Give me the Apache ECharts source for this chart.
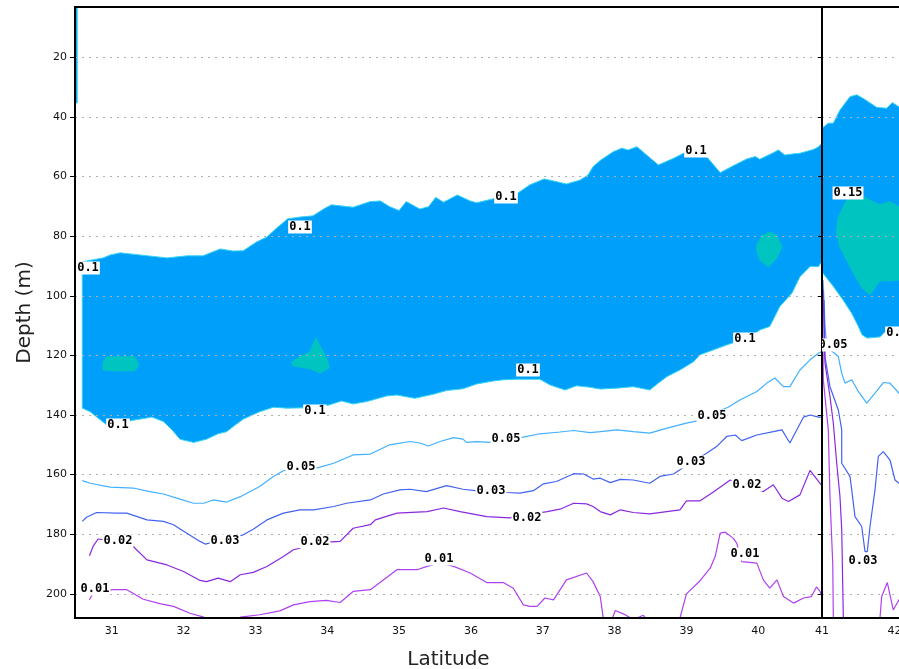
<!DOCTYPE html>
<html>
<head>
<meta charset="utf-8">
<script src="https://cdn.jsdelivr.net/npm/echarts@6/dist/echarts.min.js"></script>
<style>
  html, body { margin: 0; padding: 0; background: #fff; }
  #chart { width: 899px; height: 669px; }
</style>
</head>
<body>
<div id="chart"></div>
<script>
// Axis ticks
const latTicksWest = [31, 32, 33, 34, 35, 36, 37, 38, 39, 40];
const latTicksEast = [41, 42];
const depthTicks = [20, 40, 60, 80, 100, 120, 140, 160, 180, 200];

// Western section: region >= 0.1 (outline, [latitude, depth])
const fill010West = [
  [30.59,88.6],[30.88,87.3],[30.98,86.3],[31.12,85.6],[31.39,86.3],[31.77,87.3],[32.05,86.6],[32.27,86.6],
  [32.51,84.3],[32.69,85.0],[32.83,84.9],[33.02,81.9],[33.16,80.3],[33.30,77.2],[33.45,74.2],[33.62,73.6],
  [33.80,73.2],[33.97,70.6],[34.06,69.5],[34.36,70.3],[34.60,68.4],[34.74,68.2],[34.87,70.1],[35.00,71.4],
  [35.10,68.4],[35.29,70.9],[35.41,70.1],[35.51,67.0],[35.62,68.6],[35.81,66.2],[35.99,68.2],[36.08,68.8],
  [36.34,67.3],[36.49,66.2],[36.65,65.6],[36.82,62.8],[37.02,60.8],[37.15,61.5],[37.33,62.5],[37.52,61.2],
  [37.63,59.5],[37.70,56.7],[37.80,54.6],[37.98,51.7],[38.10,50.5],[38.19,51.1],[38.31,50.0],[38.61,56.1],
  [38.82,53.9],[39.00,51.7],[39.13,51.1],[39.28,53.3],[39.47,58.7],[39.65,56.4],[39.84,54.1],[39.96,53.3],
  [40.02,54.2],[40.21,52.0],[40.28,51.1],[40.37,52.8],[40.49,52.4],[40.58,52.2],[40.77,50.9],[40.84,50.0],
  [40.887,48.7],[40.887,89.0],[40.87,89.0],[40.84,90.2],[40.72,90.2],[40.58,93.6],[40.47,99.1],[40.30,103.6],
  [40.16,110.3],[40.02,111.5],[39.89,113.8],[39.56,116.5],[39.37,118.2],[39.19,119.8],[39.10,122.1],
  [38.91,124.9],[38.73,127.1],[38.61,129.3],[38.49,131.6],[38.26,130.5],[38.03,131.0],[37.80,131.3],
  [37.66,130.7],[37.47,130.2],[37.31,131.6],[37.10,129.9],[36.96,128.0],[36.64,128.0],[36.45,128.2],
  [36.31,128.6],[36.08,129.6],[35.89,131.2],[35.66,131.8],[35.48,133.0],[35.22,134.4],[34.97,133.3],
  [34.83,133.6],[34.55,135.5],[34.36,136.3],[34.20,135.3],[33.99,136.9],[33.69,137.6],[33.44,137.7],
  [33.25,137.4],[33.06,138.9],[32.83,141.4],[32.69,143.9],[32.60,145.6],[32.48,146.3],[32.32,148.1],
  [32.14,149.2],[31.95,148.1],[31.84,145.0],[31.72,142.2],[31.56,140.7],[31.39,141.4],[31.26,141.9],
  [30.93,143.3],[30.84,141.6],[30.70,138.9],[30.59,137.7]
];
const fill010WestEdge = [[30.489,3.1],[30.52,3.1],[30.52,35.3],[30.489,35.3]];
// Western section: cores >= 0.15
const core015WestA = [[30.88,122.2],[30.93,120.5],[31.32,120.5],[31.38,123.2],[31.32,125.2],[31.05,125.2],[30.88,124.9]];
const core015WestB = [[33.51,122.2],[33.62,120.5],[33.76,118.8],[33.84,114.1],[33.93,118.2],[34.00,121.5],[34.03,124.2],[33.90,125.9],[33.76,124.5],[33.62,123.9],[33.52,123.5]];
const core015WestC = [[39.98,82.9],[40.05,79.9],[40.16,78.6],[40.26,79.9],[40.33,83.6],[40.26,87.3],[40.14,90.3],[40.02,88.0],[39.98,84.6]];

// Western section isolines
const iso005West = [
  [30.59,162.0],[30.70,162.9],[30.98,164.2],[31.30,164.5],[31.53,165.7],[31.72,166.5],[31.95,168.2],[32.14,169.6],
  [32.28,169.6],[32.41,168.5],[32.60,169.2],[32.79,167.4],[33.06,164.0],[33.25,160.6],[33.39,158.7],[33.62,158.1],
  [33.85,157.8],[34.09,156.2],[34.36,153.4],[34.60,153.1],[34.87,150.0],[35.15,148.9],[35.29,149.4],[35.41,150.4],
  [35.57,148.9],[35.76,147.6],[35.89,148.1],[35.94,149.2],[36.08,148.9],[36.27,149.2],[36.49,148.3],[36.73,147.4],
  [36.96,146.3],[37.24,145.7],[37.43,145.2],[37.66,145.9],[37.80,145.6],[38.03,145.0],[38.26,145.6],[38.49,146.1],
  [38.73,144.4],[39.00,142.7],[39.15,142.0],[39.36,139.6],[39.58,137.4],[39.75,134.9],[39.98,132.1],[40.12,129.3],
  [40.23,127.6],[40.35,130.5],[40.44,130.5],[40.58,124.9],[40.72,121.5],[40.84,119.3],[40.887,118.7]
];
const iso003West = [
  [30.59,175.7],[30.65,174.3],[30.79,172.7],[31.07,172.9],[31.21,172.9],[31.49,175.2],[31.72,175.7],[31.86,176.8],
  [32.04,179.6],[32.23,182.4],[32.30,183.3],[32.56,181.9],[32.83,180.2],[32.97,178.3],[33.16,175.2],[33.39,172.9],
  [33.62,171.8],[33.81,171.8],[34.09,170.7],[34.27,169.6],[34.60,168.5],[34.78,166.5],[35.01,165.1],[35.15,164.9],
  [35.38,165.7],[35.66,163.7],[35.89,164.9],[36.06,165.4],[36.28,165.6],[36.50,166.0],[36.68,166.2],[36.87,165.4],
  [37.01,163.1],[37.19,162.3],[37.43,159.7],[37.57,159.8],[37.70,161.5],[37.80,161.2],[37.94,162.7],[38.08,161.6],
  [38.26,161.8],[38.49,162.9],[38.63,160.6],[38.82,159.8],[38.91,158.4],[39.08,155.7],[39.27,153.0],[39.42,150.6],
  [39.56,147.2],[39.68,146.7],[39.77,148.6],[39.98,146.7],[40.21,145.6],[40.33,145.0],[40.44,149.4],[40.63,140.7],
  [40.72,140.0],[40.84,140.7],[40.887,140.7]
];
const iso002West = [
  [30.69,187.2],[30.74,184.1],[30.81,181.6],[31.09,182.5],[31.30,184.1],[31.49,188.6],[31.77,190.3],[32.00,192.5],
  [32.23,195.5],[32.32,195.9],[32.48,194.7],[32.65,195.9],[32.79,193.6],[32.97,192.8],[33.16,190.8],[33.39,187.5],
  [33.53,185.2],[33.62,184.7],[33.83,182.9],[34.18,182.4],[34.36,178.0],[34.60,176.8],[34.67,175.2],[34.97,172.9],
  [35.39,172.4],[35.62,171.2],[35.85,172.4],[36.22,174.1],[36.54,174.5],[36.78,173.5],[37.06,172.4],[37.24,171.6],
  [37.43,169.6],[37.61,169.8],[37.70,170.7],[37.80,172.4],[37.94,173.5],[38.08,171.8],[38.26,172.7],[38.49,173.2],
  [38.91,171.8],[39.00,168.8],[39.19,168.8],[39.37,165.9],[39.61,161.8],[39.84,164.0],[40.07,165.7],[40.21,163.4],
  [40.33,167.9],[40.42,169.0],[40.58,166.8],[40.72,158.6],[40.86,162.9],[40.887,163.8]
];
const iso001WestA = [
  [30.69,202.0],[30.74,199.7],[31.02,198.6],[31.21,198.6],[31.44,201.8],[31.67,203.3],[31.86,204.2],[32.09,206.5],
  [32.28,207.8],[32.37,209.5]
];
const iso001WestB = [
  [32.72,209.2],[32.79,207.8],[33.06,207.0],[33.34,205.7],[33.53,203.7],[33.76,202.6],[33.99,202.2],[34.18,202.9],
  [34.36,199.2],[34.60,198.6],[34.97,191.9],[35.25,191.9],[35.39,190.8],[35.57,189.6],[35.76,190.8],[35.99,193.0],
  [36.22,196.2],[36.45,196.2],[36.59,198.1],[36.73,203.7],[36.82,204.2],[36.92,204.2],[37.03,201.4],[37.15,202.0],
  [37.33,195.3],[37.61,193.0],[37.70,195.9],[37.80,200.9],[37.84,207.7],[37.87,209.2]
];
const iso001WestC = [
  [37.95,209.2],[37.98,207.5],[38.01,205.6],[38.12,206.7],[38.22,208.0],[38.31,208.1],[38.40,207.2],[38.43,208.1],[38.45,209.2]
];
const iso001WestD = [
  [38.88,209.2],[38.91,208.1],[39.00,200.0],[39.19,195.6],[39.33,191.4],[39.40,187.5],[39.47,179.6],[39.54,179.3],
  [39.65,181.3],[39.70,183.0],[39.77,189.2],[39.98,189.7],[40.07,195.3],[40.16,198.1],[40.26,195.3],[40.35,200.9],
  [40.49,203.1],[40.63,201.4],[40.74,200.9],[40.81,197.7],[40.86,199.2],[40.887,201.0]
];

// Eastern section
const fill010East = [
  [41.0,43.8],[41.087,42.1],[41.156,42.1],[41.248,37.7],[41.386,33.2],[41.479,32.6],[41.570,33.8],[41.754,36.8],
  [41.892,37.1],[41.970,35.2],[42.062,36.6],[42.25,37.0],[42.25,111.1],[42.062,111.5],[41.869,112.1],[41.800,113.8],
  [41.621,114.2],[41.552,113.1],[41.497,110.1],[41.410,105.9],[41.290,101.4],[41.152,96.7],[41.041,93.3],[41.0,92.0]
];
const core015East = [
  [41.200,78.9],[41.221,73.9],[41.341,67.9],[41.524,66.2],[41.662,68.0],[41.800,69.5],[41.938,68.4],[42.062,70.1],
  [42.25,70.2],[42.25,94.7],[42.062,94.7],[41.938,95.0],[41.800,95.0],[41.662,99.7],[41.552,97.4],[41.386,90.3],
  [41.248,83.6]
];
const iso005East = [
  [41.014,94.7],[41.028,101.4],[41.041,109.8],[41.065,117.1],[41.225,120.4],[41.272,126.0],[41.317,129.3],[41.410,128.2],
  [41.501,132.1],[41.617,136.0],[41.731,132.7],[41.846,129.1],[41.938,129.3],[42.062,132.7],[42.186,133.9]
];
const iso003East = [
  [41.028,101.4],[41.041,120.4],[41.110,130.5],[41.225,138.3],[41.272,145.0],[41.272,156.2],[41.386,160.6],[41.410,165.1],
  [41.455,174.1],[41.548,177.4],[41.593,185.8],[41.625,185.8],[41.662,177.4],[41.731,165.1],[41.777,153.9],[41.846,152.3],
  [41.938,155.1],[42.007,161.8],[42.062,162.9],[42.186,163.8]
];
const iso002East = [
  [41.014,98.0],[41.041,122.6],[41.110,133.8],[41.156,142.7],[41.203,156.2],[41.248,167.4],[41.272,178.5],[41.294,207.8],[41.297,209.2]
];
const iso001EastA = [
  [41.007,98.0],[41.018,128.2],[41.087,145.0],[41.110,167.4],[41.148,189.7],[41.156,207.8],[41.157,209.2]
];
const iso001EastB = [
  [41.786,209.2],[41.800,208.1],[41.823,200.9],[41.901,196.2],[41.983,205.4],[42.062,202.0],[42.186,198.6]
];

// Isoline labels
const labelTextWest = ['0.1','0.1','0.1','0.1','0.1','0.1','0.1','0.1',
  '0.05','0.05','0.05','0.03','0.03','0.03','0.02','0.02','0.02','0.02','0.01','0.01','0.01'];
const labelPosWest = [
  [30.67,90.7],[33.62,76.9],[36.49,67.0],[39.14,51.6],[31.09,143.3],[33.83,138.6],[36.79,125.0],[39.82,114.5],
  [33.63,157.6],[36.49,148.0],[39.36,140.3],
  [32.57,182.2],[36.28,165.4],[39.06,155.9],
  [31.09,182.4],[33.83,182.7],[36.78,174.7],[39.84,163.4],
  [30.77,198.3],[35.56,188.2],[39.82,186.7]
];
const labelTextEast = ['0.15','0.05','0.03','0.1'];
const labelPosEast = [[41.352,65.5],[41.145,116.5],[41.566,189.1],[42.03,112.6]];

const BLUE = '#00a0fa';
const EDGE = '#38d4f4';
const TEAL = '#00c4bf';
const C005 = '#40b0ff';
const C003 = '#4262f2';
const C002 = '#8a28e0';
const C001 = '#b040f0';

function area(points, axis, fill, stroke, z) {
  return {
    type: 'custom', xAxisIndex: axis, yAxisIndex: axis, data: points, clip: true, z: z, silent: true,
    renderItem: function (params, api) {
      if (params.dataIndex !== 0) return null;
      return {
        type: 'polygon',
        shape: { points: points.map(function (p) { return api.coord(p); }) },
        style: { fill: fill, stroke: stroke, lineWidth: 1 }
      };
    }
  };
}

function isoline(points, axis, color) {
  return {
    type: 'line', xAxisIndex: axis, yAxisIndex: axis, data: points, symbol: 'none', clip: true,
    silent: true, z: 4, lineStyle: { color: color, width: 1.2 }
  };
}

function labels(points, texts, axis) {
  return {
    type: 'custom', xAxisIndex: axis, yAxisIndex: axis, data: points, clip: true, z: 20, silent: true,
    renderItem: function (params, api) {
      const c = api.coord([api.value(0), api.value(1)]);
      return {
        type: 'text', x: Math.round(c[0]), y: Math.round(c[1]),
        style: {
          text: texts[params.dataIndex], fill: '#000',
          font: 'bold 12px "DejaVu Sans Mono"', align: 'center', verticalAlign: 'middle',
          backgroundColor: '#fff', padding: [1, 1, 0, 1]
        }
      };
    }
  };
}

const tickFont = { color: '#111', fontSize: 11, fontFamily: 'DejaVu Sans' };
const gridDots = { show: true, lineStyle: { color: '#b0b0b0', width: 1, type: [2, 5] } };
const frame = { show: true, lineStyle: { color: '#000', width: 2 } };
const depthMin = 3.13, depthMax = 208.1;
const eastMax = 42.2;

const option = {
  animation: false,
  backgroundColor: '#fff',
  grid: [
    { left: 75, top: 7, width: 747, height: 611, outerBoundsMode: 'none', show: true, borderColor: '#000', borderWidth: 2, backgroundColor: 'transparent', z: 6 },
    { left: 822, top: 7, width: 87, height: 611, outerBoundsMode: 'none', show: false }
  ],
  xAxis: [
    {
      gridIndex: 0, type: 'value', min: 30.489, max: 40.887,
      axisLine: { show: false }, axisTick: { show: false, customValues: latTicksWest },
      axisLabel: Object.assign({ customValues: latTicksWest, margin: 8 }, tickFont),
      splitLine: { show: false },
      name: 'Latitude', nameLocation: 'middle', nameGap: 32,
      nameTextStyle: { fontSize: 20, color: '#222', fontFamily: 'DejaVu Sans' }
    },
    {
      gridIndex: 1, type: 'value', min: 41, max: eastMax, position: 'bottom', z: 6,
      axisLine: frame, axisTick: { show: false, customValues: latTicksEast },
      axisLabel: Object.assign({ customValues: latTicksEast, margin: 8 }, tickFont),
      splitLine: { show: false }
    },
    {
      gridIndex: 1, type: 'value', min: 41, max: eastMax, position: 'top', z: 6,
      axisLine: frame, axisTick: { show: false }, axisLabel: { show: false }, splitLine: { show: false }
    }
  ],
  yAxis: [
    {
      gridIndex: 0, type: 'value', inverse: true, min: depthMin, max: depthMax, z: 3,
      axisLine: { show: false },
      axisTick: { show: true, customValues: depthTicks, length: 5, lineStyle: { color: '#000' } },
      axisLabel: Object.assign({ customValues: depthTicks, margin: 8 }, tickFont),
      splitLine: gridDots,
      name: 'Depth (m)', nameLocation: 'middle', nameGap: 40,
      nameTextStyle: { fontSize: 20, color: '#222', fontFamily: 'DejaVu Sans' }
    },
    {
      gridIndex: 1, type: 'value', inverse: true, min: depthMin, max: depthMax, z: 3,
      axisLine: { show: false },
      axisTick: { show: true, customValues: depthTicks, length: 4, lineStyle: { color: '#000' } },
      axisLabel: { show: false, customValues: depthTicks },
      splitLine: gridDots
    }
  ],
  series: [
    area(fill010West, 0, BLUE, EDGE, 1),
    area(fill010WestEdge, 0, BLUE, EDGE, 1),
    area(core015WestA, 0, TEAL, TEAL, 2),
    area(core015WestB, 0, TEAL, TEAL, 2),
    area(core015WestC, 0, TEAL, TEAL, 2),
    area(fill010East, 1, BLUE, EDGE, 1),
    area(core015East, 1, TEAL, TEAL, 2),
    isoline(iso005West, 0, C005),
    isoline(iso003West, 0, C003),
    isoline(iso002West, 0, C002),
    isoline(iso001WestA, 0, C001),
    isoline(iso001WestB, 0, C001),
    isoline(iso001WestC, 0, C001),
    isoline(iso001WestD, 0, C001),
    isoline(iso005East, 1, C005),
    isoline(iso003East, 1, C003),
    isoline(iso002East, 1, C002),
    isoline(iso001EastA, 1, C001),
    isoline(iso001EastB, 1, C001),
    labels(labelPosWest, labelTextWest, 0),
    labels(labelPosEast, labelTextEast, 1)
  ]
};

const chart = echarts.init(document.getElementById('chart'), null, { renderer: 'canvas' });
chart.setOption(option);
</script>
</body>
</html>
